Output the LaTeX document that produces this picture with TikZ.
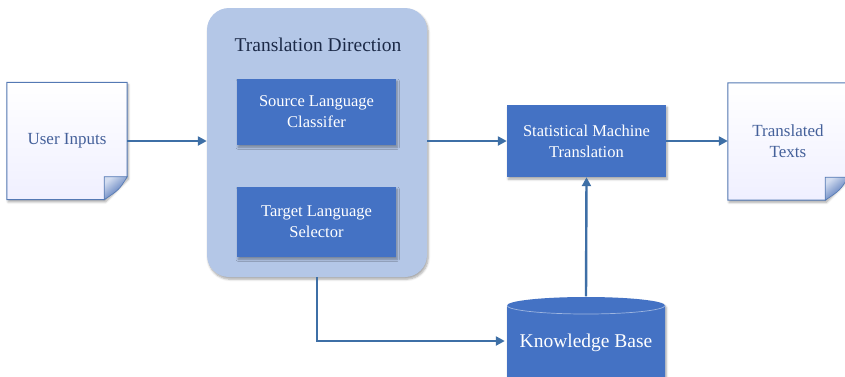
\documentclass[tikz,border=0pt]{standalone}
\usepackage{fontspec}
\setmainfont{Liberation Serif}
\usetikzlibrary{arrows.meta,calc,shadows.blur}

\definecolor{boxblue}{HTML}{4472C4}
\definecolor{groupblue}{HTML}{B4C7E7}
\definecolor{linkblue}{HTML}{3E6FA6}
\definecolor{docedge}{HTML}{5479B4}
\definecolor{doctext}{HTML}{44609A}
\definecolor{titletext}{HTML}{1C2A48}
\definecolor{foldlight}{HTML}{D3DDF0}
\definecolor{folddark}{HTML}{3A62AE}
\definecolor{kbline}{HTML}{9DB5E0}

\tikzset{
  softshadow/.style={blur shadow={shadow xshift=1.2pt, shadow yshift=-2.2pt,
      shadow blur steps=6, shadow blur radius=2.2pt, shadow opacity=35}},
  group/.style={rectangle, rounded corners=22pt, fill=groupblue, draw=none,
      minimum width=220pt, minimum height=269pt, softshadow},
  grouptitle/.style={text=titletext, font=\fontsize{19.5}{23}\selectfont},
  procbox/.style={rectangle, fill=boxblue, draw=none, text=white,
      align=center, font=\fontsize{16.5}{21}\selectfont, minimum width=159pt,
      softshadow},
  docnode/.style={rectangle, draw=none, align=center, text=doctext,
      font=\fontsize{17}{21}\selectfont, minimum width=120pt, minimum height=117pt},
  docpage/.style={draw=docedge, line width=1pt, top color=white,
      bottom color=blue!6!white, softshadow},
  docfold/.style={draw=docedge, line width=0.6pt, left color=foldlight,
      right color=folddark, shading angle=40},
  kbnode/.style={rectangle, draw=none, text=white,
      font=\fontsize{19.5}{23}\selectfont, minimum width=158pt, minimum height=89pt},
  link/.style={draw=linkblue, line width=2.4pt,
      -{Triangle[length=9pt,width=9pt]}},
}

% draws a note page with a folded lower right corner around a node
\newcommand\notepage[1]{%
  \path[docpage] (#1.north west) -- (#1.north east)
     -- ($(#1.south east)+(0,-23)$) -- ($(#1.south east)+(-23,0)$)
     -- (#1.south west) -- cycle;
  \path[docfold] ($(#1.south east)+(-23,-23)$) -- ($(#1.south east)+(0,-23)$)
     .. controls ($(#1.south east)+(-8,-10)$) .. ($(#1.south east)+(-23,0)$) -- cycle;
}

\begin{document}
\begin{tikzpicture}[x=1pt,y=-1pt]
  \useasboundingbox (0,0) rectangle (845,376);

  % grouping panel with its two sub-steps
  \node[group] (dir) at (317,142.5) {};
  \node[grouptitle] (dirtitle) at (318,45) {Translation Direction};
  \node[procbox, minimum height=66pt] (src) at (316.5,112) {Source Language\\Classifer};
  \node[procbox, minimum height=70pt] (tgt) at (316.5,222) {Target Language\\Selector};

  % main translation step
  \node[procbox, minimum height=72pt] (smt) at (586.5,141) {Statistical Machine\\Translation};

  % input and output documents
  \node[docnode] (ui) at (67,141) {};
  \notepage{ui}
  \node[docnode] (uitext) at (ui.center) {User Inputs};

  \node[docnode] (tt) at (788,141.5) {};
  \notepage{tt}
  \node[docnode] (tttext) at (tt.center) {Translated\\Texts};

  % knowledge base drum (runs past the lower edge)
  \node[kbnode] (kb) at (586,341) {};
  \fill[boxblue, softshadow] (507,305.5) arc[start angle=180, end angle=0, x radius=79pt, y radius=8.5pt]
     -- (665,395) -- (507,395) -- cycle;
  \draw[kbline, line width=0.7pt] (507,305.5) arc[start angle=180, end angle=360, x radius=79pt, y radius=8.5pt];
  \node[kbnode] (kbtext) at ($(kb.center)+(0,2)$) {Knowledge Base};

  % connectors
  \draw[link] (ui.east) -- (ui.east -| dir.west);
  \draw[link] (smt.west -| dir.east) -- (smt.west);
  \draw[link] (smt.east) -- (smt.east -| tt.west);
  \draw[link] (kb.north) -- (smt.south);
  \draw[link] (dir.south) |- ($(kb.west)+(-2,0)$);
\end{tikzpicture}
\end{document}
